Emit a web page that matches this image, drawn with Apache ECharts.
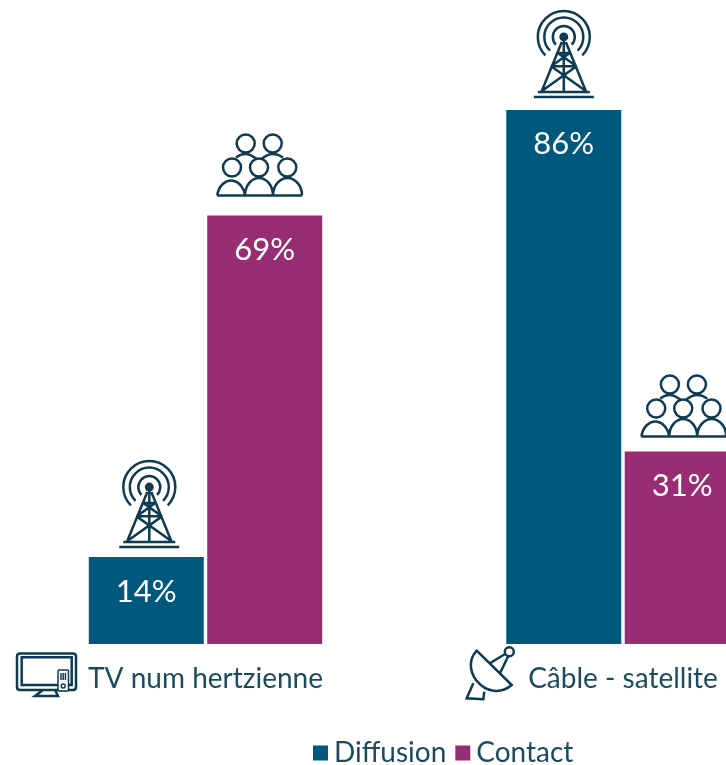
<!DOCTYPE html>
<html>
<head>
<meta charset="utf-8">
<style>
  html, body { margin: 0; padding: 0; background: #fff; }
  #main { width: 726px; height: 765px; overflow: hidden; }
</style>
</head>
<body>
<div id="main"></div>
<script src="https://cdn.jsdelivr.net/npm/echarts@6/dist/echarts.min.js"></script>
<script>
const categories = ['TV num hertzienne', 'Câble - satellite'];
const seriesNames = ['Diffusion', 'Contact'];
const diffusion = [14, 86];
const contact = [69, 31];

const BLUE = '#00587c';
const PURPLE = '#982d73';
const INK = '#0f3b52';
const TEXT = '#1c4a5f';
const FONT = 'Lato';

// icons, drawn around their own origin
const TOWER = 'M-18.4 18.4A26 26 0 1 1 18.4 18.4M-13.8 13.8A19.5 19.5 0 1 1 13.8 13.8M-7.8 7.8A11 11 0 1 1 7.8 7.8'
    + 'M-2 5L-22 54M2 5L22 54M0 4L0 54M-6 16L6 16M-6 16L12.7 29.3M6 16L-12.7 29.3M-12.7 29.3L12.7 29.3'
    + 'M-12.7 29.3L22 54M12.7 29.3L-22 54M-26 55L26 55M-30 60L30 60';
const PEOPLE = 'M-4.3 -52A9 9 0 1 1 -22.3 -52A9 9 0 1 1 -4.3 -52M22.7 -52A9 9 0 1 1 4.7 -52A9 9 0 1 1 22.7 -52'
    + 'M-18 -28A9 9 0 1 1 -36 -28A9 9 0 1 1 -18 -28M9 -28A9 9 0 1 1 -9 -28A9 9 0 1 1 9 -28M37.3 -28A9 9 0 1 1 19.3 -28A9 9 0 1 1 37.3 -28'
    + 'M-41.7 0A14 17.5 0 0 1 -14 0M-14 0A14 17.5 0 0 1 14 0M14 0A14.5 17.5 0 0 1 43 0M-42 0L43 0'
    + 'M-23 -38Q-13 -46 -2 -36M2 -36Q13 -46 24 -38';
const TV = 'M3 .5L56 .5Q59 .5 59 3.5L59 34Q59 37 56 37L3 37Q0 37 0 34L0 3.5Q0 .5 3 .5Z'
    + 'M4.7 4.3L54.7 4.3L54.7 32L4.7 32ZM26 37L18 43L41 43L38 37';
const REMOTE = 'M42 17L50.5 17Q51.5 17 51.5 18L51.5 37Q51.5 38 50.5 38L42 38Q41 38 41 37L41 18Q41 17 42 17Z'
    + 'M44 20L44 27M46.2 20L46.2 27M48.4 20L48.4 27M48.2 33A2 2 0 1 1 44.2 33A2 2 0 1 1 48.2 33';
const DISH = 'M10.7 .7L45.7 35C35 44 20 43 10 30C3 20 3 9 10.7 .7Z'
    + 'M24 13.3L39 4M34 23.3L42.3 6M47.8 1.7A4.5 4.5 0 1 1 38.8 1.7A4.5 4.5 0 1 1 47.8 1.7'
    + 'M7.3 33.3L.7 48.3L17.3 49.3L18.3 41.7';

echarts.graphic.registerShape('TowerIcon', echarts.graphic.extendPath(TOWER));
echarts.graphic.registerShape('PeopleIcon', echarts.graphic.extendPath(PEOPLE));
echarts.graphic.registerShape('TvIcon', echarts.graphic.extendPath(TV));
echarts.graphic.registerShape('RemoteIcon', echarts.graphic.extendPath(REMOTE));
echarts.graphic.registerShape('DishIcon', echarts.graphic.extendPath(DISH));

const stroke = { fill: 'none', stroke: INK, lineWidth: 2.5 };
const BAR_SHIFT = 59.2;

function iconEl(type, x, y, style) {
    return { type: type, x: x, y: y, shape: {}, style: Object.assign({}, stroke, style) };
}

// [category, value, side of the bar, icon, dx, dy]
const iconRows = [
    [0, diffusion[0], -1, 'tower', 3, -70],
    [1, diffusion[1], -1, 'tower', 0, -73],
    [0, contact[0], 1, 'people', -5.7, -20],
    [1, contact[1], 1, 'people', 1, -15],
    [0, 0, 0, 'tv', -188.5, 9],
    [1, 0, 0, 'dish', -157, 6]
];

const option = {
    backgroundColor: '#fff',
    animation: false,
    grid: { left: -3.25, top: 23, width: 835, height: 621, outerBoundsMode: 'none' },
    legend: {
        data: seriesNames,
        left: 313,
        top: 739,
        padding: 0,
        icon: 'rect',
        itemWidth: 15,
        itemHeight: 15,
        itemGap: 9,
        textStyle: { color: TEXT, fontFamily: FONT, fontSize: 28, padding: [0, 0, 0, 1] }
    },
    xAxis: {
        type: 'category',
        data: categories,
        axisLine: { show: false },
        axisTick: { show: false },
        axisLabel: { interval: 0, color: TEXT, fontFamily: FONT, fontSize: 28, margin: 21 }
    },
    yAxis: { type: 'value', min: 0, max: 100, show: false },
    series: [{
        name: seriesNames[0],
        type: 'bar',
        data: diffusion,
        barWidth: 115,
        barGap: '3%',
        itemStyle: { color: BLUE },
        label: { show: true, position: 'insideTop', distance: 19, formatter: '{c}%', color: '#fff', fontFamily: FONT, fontSize: 31 }
    }, {
        name: seriesNames[1],
        type: 'bar',
        data: contact,
        barWidth: 115,
        itemStyle: { color: PURPLE },
        label: { show: true, position: 'insideTop', distance: 19, formatter: '{c}%', color: '#fff', fontFamily: FONT, fontSize: 31 }
    }, {
        type: 'custom',
        silent: true,
        data: iconRows,
        encode: { x: 0, y: 1 },
        renderItem: function (params, api) {
            const row = iconRows[params.dataIndex];
            const p = api.coord([row[0], row[1]]);
            const x = p[0] + row[2] * BAR_SHIFT + row[4];
            const y = p[1] + row[5];
            let children;
            if (row[3] === 'tower') {
                children = [
                    iconEl('TowerIcon', x, y),
                    { type: 'circle', shape: { cx: x, cy: y, r: 4.5 }, style: { fill: INK } }
                ];
            } else if (row[3] === 'people') {
                children = [iconEl('PeopleIcon', x, y)];
            } else if (row[3] === 'tv') {
                children = [iconEl('TvIcon', x, y), iconEl('RemoteIcon', x, y, { fill: '#fff', lineWidth: 1.5 })];
            } else {
                children = [iconEl('DishIcon', x, y)];
            }
            return { type: 'group', children: children };
        }
    }]
};

const myChart = echarts.init(document.getElementById('main'), null, { renderer: 'canvas' });
myChart.setOption(option);
</script>
</body>
</html>
